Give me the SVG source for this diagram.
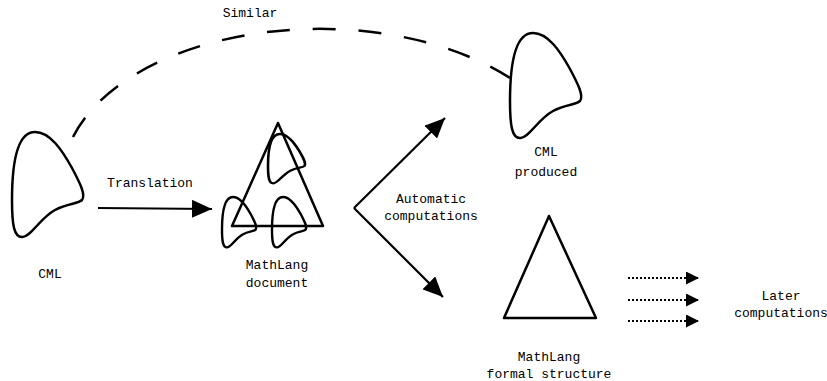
<svg xmlns="http://www.w3.org/2000/svg" width="827" height="381" viewBox="0 0 827 381">
  <style>
    .shape { fill: none; stroke: #000; stroke-width: 2.5; stroke-linejoin: round; }
    .small { stroke-width: 5; }
    .line { fill: none; stroke: #000; stroke-width: 2.2; }
    .dash { fill: none; stroke: #000; stroke-width: 2.5; stroke-dasharray: 22 22; }
    .dot { fill: none; stroke: #000; stroke-width: 2.2; stroke-dasharray: 2 2; }
    text { font-family: "Liberation Mono", "DejaVu Sans Mono", monospace; font-size: 13px; fill: #000; text-anchor: middle; }
  </style>
  <defs>
    <!-- teardrop outline used for CML pieces; bounding box starts at (12,132) -->
    <path id="blob" d="M35,132 C50,132 62,150 72,168 C80,183 86,195 82,200 C78,204 68,203 55,210 C40,218 30,238 22,237 C14,237 12,225 12,200 C12,170 15,132 35,132 Z"/>
    <marker id="head" viewBox="0 0 20 18" refX="20" refY="9" markerWidth="20" markerHeight="18" markerUnits="userSpaceOnUse" orient="auto">
      <path d="M0,0 L20,9 L0,18 Z" fill="#000"/>
    </marker>
    <marker id="headSmall" viewBox="0 0 13 13" refX="13" refY="6.5" markerWidth="13" markerHeight="13" markerUnits="userSpaceOnUse" orient="auto">
      <path d="M0,0 L13,6.5 L0,13 Z" fill="#000"/>
    </marker>
  </defs>

  <g id="cml">
    <use href="#blob" class="shape"/>
    <text x="50" y="278">CML</text>
  </g>

  <g id="mathlang-document">
    <path class="shape" d="M278,123 L232,226 L323,226 Z"/>
    <use href="#blob" class="shape small" transform="translate(268,134) scale(0.52,0.47) translate(-12,-132)"/>
    <use href="#blob" class="shape small" transform="translate(222,197) scale(0.48,0.48) translate(-12,-132)"/>
    <use href="#blob" class="shape small" transform="translate(272,197) scale(0.48,0.48) translate(-12,-132)"/>
    <text x="277" y="269">MathLang</text>
    <text x="277" y="287">document</text>
  </g>

  <g id="cml-produced">
    <use href="#blob" class="shape" transform="translate(498,-99)"/>
    <text x="546" y="156">CML</text>
    <text x="546" y="176">produced</text>
  </g>

  <g id="mathlang-formal">
    <path class="shape" d="M549,216 L504,318 L596,318 Z"/>
    <text x="549" y="361">MathLang</text>
    <text x="549" y="378">formal structure</text>
  </g>

  <g id="later">
    <text x="781" y="300">Later</text>
    <text x="781" y="317">computations</text>
  </g>

  <g id="connectors">
    <path class="dash" pathLength="462" d="M510,78 A257,150 0 0 0 73,137"/>
    <text x="250" y="17">Similar</text>

    <path class="line" d="M98,208 L212,209" marker-end="url(#head)"/>
    <text x="150" y="187">Translation</text>

    <path class="line" d="M354,208 L445,118" marker-end="url(#head)"/>
    <path class="line" d="M354,208 L443,297" marker-end="url(#head)"/>
    <text x="431" y="203">Automatic</text>
    <text x="431" y="220">computations</text>

    <path class="dot" d="M628,278 L699,278" marker-end="url(#headSmall)"/>
    <path class="dot" d="M628,300 L699,300" marker-end="url(#headSmall)"/>
    <path class="dot" d="M628,321 L699,321" marker-end="url(#headSmall)"/>
  </g>
</svg>
